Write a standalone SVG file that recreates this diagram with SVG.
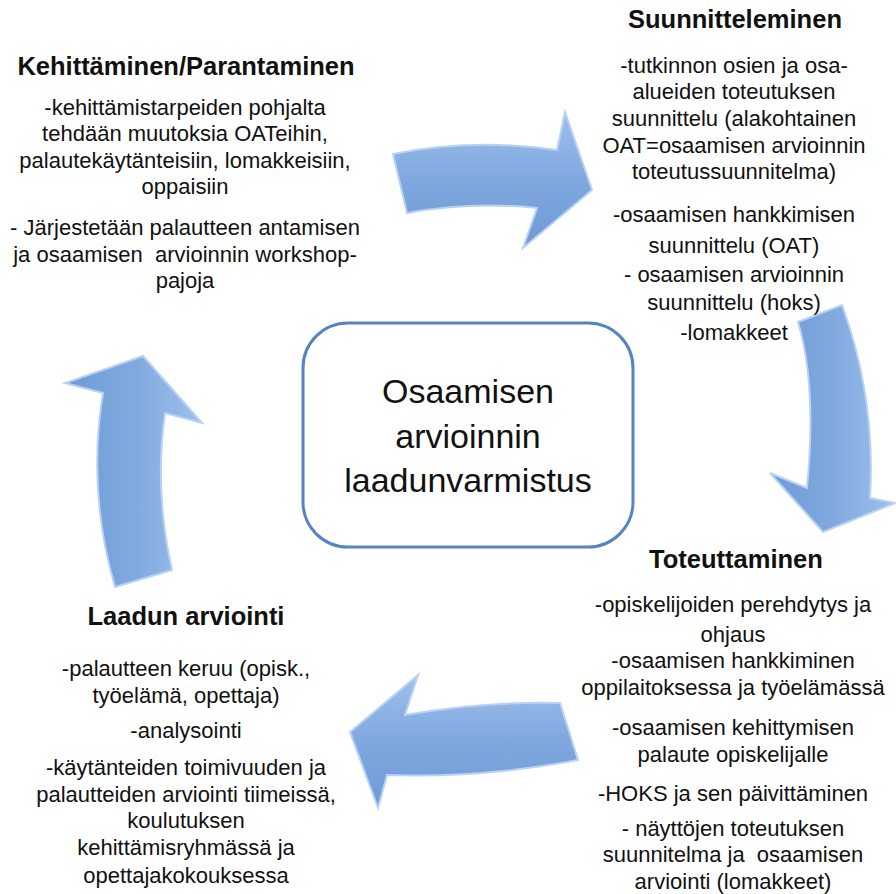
<svg xmlns="http://www.w3.org/2000/svg" width="896" height="894" viewBox="0 0 896 894">
<defs>
<linearGradient id="gh" x1="0" y1="0" x2="0" y2="1">
<stop offset="0" stop-color="#9EC0EC"/><stop offset="0.5" stop-color="#7FA8DF"/><stop offset="1" stop-color="#6F9AD6"/>
</linearGradient>
<linearGradient id="gv" x1="0" y1="0" x2="1" y2="0">
<stop offset="0" stop-color="#6F9AD6"/><stop offset="0.5" stop-color="#80A9DF"/><stop offset="1" stop-color="#9EC0EC"/>
</linearGradient>
<filter id="soft" x="-10%" y="-10%" width="120%" height="120%">
<feGaussianBlur stdDeviation="0.8"/>
</filter>
</defs>
<style>
.arrow{stroke:#B9D2F3;stroke-width:2;stroke-linejoin:miter}
.t{font-family:"Liberation Sans",Arial,sans-serif;font-size:22px;fill:#111;text-anchor:middle}
.h{font-family:"Liberation Sans",Arial,sans-serif;font-size:25.5px;font-weight:bold;fill:#111;text-anchor:middle}
.c{font-family:"Liberation Sans",Arial,sans-serif;font-size:34px;fill:#111;text-anchor:middle}
</style>
<rect width="896" height="894" fill="#fff"/>
<g id="connectors">
<path class="arrow" fill="url(#gh)" d="M393,154 Q475,138 557,150 L565,112 L592,190 L523,248 L537,208 Q470,201 407,213 Z"/>
<path class="arrow" fill="url(#gv)" d="M798,322 L842,305 Q876,398 870,498 L895,503 L823,532 L770,473 L807,488 Q817,385 798,322 Z"/>
<path class="arrow" fill="url(#gh)" d="M560,703 Q483,701 405,715 L418,675 L350,732 L378,808 L387,775 Q483,778 578,760 Z"/>
<path class="arrow" fill="url(#gv)" d="M143,356 L202,423 L165,413 Q154,490 172,570 L115,587 Q87,490 103,393 L65,383 Z"/>
</g>
<g id="center">
<rect x="303" y="323" width="330" height="224" rx="45" ry="45" fill="#fff" stroke="#5584C2" stroke-width="3"/>
<text class="c" x="468" y="403">Osaamisen</text>
<text class="c" x="468" y="448">arvioinnin</text>
<text class="c" x="468" y="492">laadunvarmistus</text>
</g>
<g id="kehittaminen">
<text class="h" x="186" y="75">Kehittäminen/Parantaminen</text>
<text class="t" x="185" y="115">-kehittämistarpeiden pohjalta</text>
<text class="t" x="185" y="141">tehdään muutoksia OATeihin,</text>
<text class="t" x="185" y="168">palautekäytänteisiin, lomakkeisiin,</text>
<text class="t" x="185" y="194">oppaisiin</text>
<text class="t" x="185" y="235">- Järjestetään palautteen antamisen</text>
<text class="t" x="185" y="262" xml:space="preserve">ja osaamisen  arvioinnin workshop-</text>
<text class="t" x="185" y="288">pajoja</text>
</g>
<g id="suunnitteleminen">
<text class="h" x="735" y="28">Suunnitteleminen</text>
<text class="t" x="734" y="73">-tutkinnon osien ja osa-</text>
<text class="t" x="734" y="99">alueiden toteutuksen</text>
<text class="t" x="734" y="126">suunnittelu (alakohtainen</text>
<text class="t" x="734" y="153">OAT=osaamisen arvioinnin</text>
<text class="t" x="734" y="179">toteutussuunnitelma)</text>
<text class="t" x="734" y="222">-osaamisen hankkimisen</text>
<text class="t" x="734" y="253">suunnittelu (OAT)</text>
<text class="t" x="734" y="282">- osaamisen arvioinnin</text>
<text class="t" x="734" y="310">suunnittelu (hoks)</text>
<text class="t" x="734" y="340">-lomakkeet</text>
</g>
<g id="toteuttaminen">
<text class="h" x="736" y="568">Toteuttaminen</text>
<text class="t" x="733" y="612">-opiskelijoiden perehdytys ja</text>
<text class="t" x="733" y="642">ohjaus</text>
<text class="t" x="733" y="668">-osaamisen hankkiminen</text>
<text class="t" x="733" y="695">oppilaitoksessa ja työelämässä</text>
<text class="t" x="733" y="735">-osaamisen kehittymisen</text>
<text class="t" x="733" y="762">palaute opiskelijalle</text>
<text class="t" x="733" y="801">-HOKS ja sen päivittäminen</text>
<text class="t" x="733" y="836">- näyttöjen toteutuksen</text>
<text class="t" x="733" y="862" xml:space="preserve">suunnitelma ja  osaamisen</text>
<text class="t" x="733" y="889">arviointi (lomakkeet)</text>
</g>
<g id="laadun">
<text class="h" x="186" y="625">Laadun arviointi</text>
<text class="t" x="186" y="676">-palautteen keruu (opisk.,</text>
<text class="t" x="186" y="703">työelämä, opettaja)</text>
<text class="t" x="186" y="738">-analysointi</text>
<text class="t" x="186" y="775">-käytänteiden toimivuuden ja</text>
<text class="t" x="186" y="802">palautteiden arviointi tiimeissä,</text>
<text class="t" x="186" y="828">koulutuksen</text>
<text class="t" x="186" y="855">kehittämisryhmässä ja</text>
<text class="t" x="186" y="883">opettajakokouksessa</text>
</g>
</svg>
